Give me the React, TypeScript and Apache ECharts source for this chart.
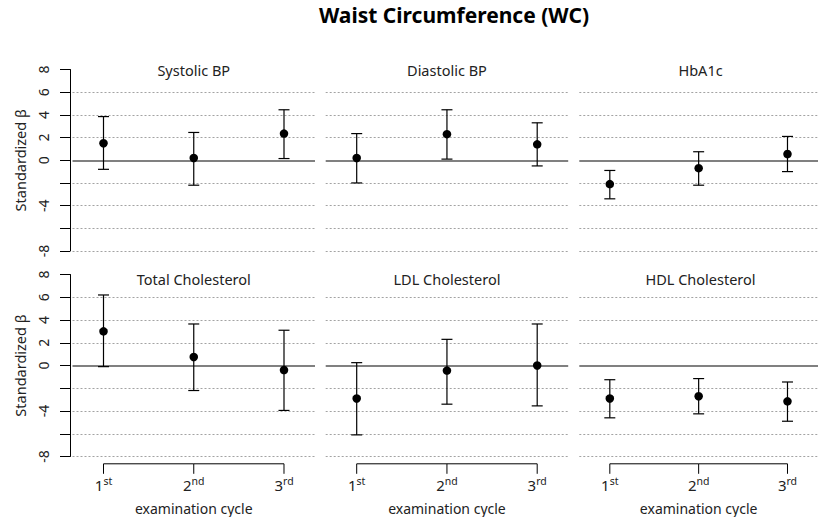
import React, { useEffect, useRef } from "react";
import * as echarts from "echarts";

// Examination cycles on the x axis
const cycles = [1, 2, 3];
const cycleNumbers = ["1", "2", "3"];
const cycleSuffixes = ["st", "nd", "rd"];

// Panel titles, row by row
const panelTitles = [
  "Systolic BP",
  "Diastolic BP",
  "HbA1c",
  "Total Cholesterol",
  "LDL Cholesterol",
  "HDL Cholesterol",
];

// Standardized beta estimates with lower / upper confidence limits
const sbpEst = [1.5, 0.2, 2.35];
const sbpLo = [-0.8, -2.2, 0.15];
const sbpHi = [3.85, 2.45, 4.45];

const dbpEst = [0.2, 2.3, 1.4];
const dbpLo = [-2.0, 0.1, -0.5];
const dbpHi = [2.35, 4.45, 3.3];

const hba1cEst = [-2.1, -0.7, 0.55];
const hba1cLo = [-3.4, -2.2, -1.0];
const hba1cHi = [-0.9, 0.75, 2.1];

const tcEst = [3.0, 0.75, -0.4];
const tcLo = [-0.1, -2.2, -3.95];
const tcHi = [6.2, 3.65, 3.1];

const ldlEst = [-2.9, -0.45, 0.0];
const ldlLo = [-6.1, -3.4, -3.55];
const ldlHi = [0.25, 2.3, 3.65];

const hdlEst = [-2.9, -2.7, -3.15];
const hdlLo = [-4.6, -4.25, -4.9];
const hdlHi = [-1.25, -1.15, -1.45];

const estimates = [sbpEst, dbpEst, hba1cEst, tcEst, ldlEst, hdlEst];
const lowers = [sbpLo, dbpLo, hba1cLo, tcLo, ldlLo, hdlLo];
const uppers = [sbpHi, dbpHi, hba1cHi, tcHi, ldlHi, hdlHi];

// Y axis scale, dotted reference lines and the tick labels that are printed
const yMin = -8;
const yMax = 8;
const yStep = 2;
const dottedLevels = [-8, -6, -4, -2, 2, 4, 6];
const yLabelsShown = [-8, -4, 0, 2, 4, 6, 8];

const FONT = "'Noto Sans', 'Open Sans', 'DejaVu Sans', sans-serif";
const TEXT = "#222";

// Panel layout
const COL_LEFT = [72.5, 325.7, 579.3];
const COL_W = 242.5;
const ROW_TOP = [69.5, 274.5];
const ROW_H = [181.5, 182];
const X_MIN = 0.6565;
const X_MAX = 3.3435;
const X_AXIS_OFFSET = 7.3;
const TICK_LEN = 10;

export default function App() {
  const ref = useRef<HTMLDivElement>(null);

  useEffect(() => {
    if (!ref.current) return;
    const chart = echarts.init(ref.current, null, { renderer: "svg" });

    const grids: any[] = [];
    const xAxes: any[] = [];
    const yAxes: any[] = [];
    const series: any[] = [];
    const graphics: any[] = [
      {
        type: "text",
        x: 454,
        y: 15,
        style: {
          text: "Waist Circumference (WC)",
          fill: "#000",
          font: `bold 21px ${FONT}`,
          align: "center",
          verticalAlign: "middle",
        },
      },
    ];

    for (let i = 0; i < 6; i++) {
      const row = Math.floor(i / 3);
      const col = i % 3;
      const isBottom = row === 1;
      const isLeft = col === 0;

      grids.push({
        left: COL_LEFT[col],
        top: ROW_TOP[row],
        width: COL_W,
        height: ROW_H[row],
      });

      xAxes.push({
        gridIndex: i,
        type: "value",
        min: X_MIN,
        max: X_MAX,
        show: isBottom,
        offset: X_AXIS_OFFSET,
        axisLine: { show: false },
        splitLine: { show: false },
        axisTick: { show: false },
        axisLabel: {
          customValues: cycles,
          margin: 12,
          formatter: (v: number) => {
            const j = cycles.indexOf(v);
            return j < 0 ? "" : `{n|${cycleNumbers[j]}}{s|${cycleSuffixes[j]}}`;
          },
          rich: {
            n: { fontSize: 15, fontFamily: FONT, color: TEXT, lineHeight: 18 },
            s: {
              fontSize: 10.5,
              fontFamily: FONT,
              color: TEXT,
              lineHeight: 10,
              verticalAlign: "top",
            },
          },
        },
        name: "examination cycle",
        nameLocation: "middle",
        nameGap: 38,
        nameMoveOverlap: false,
        nameTextStyle: { fontSize: 14, fontFamily: FONT, color: TEXT },
      });

      yAxes.push({
        gridIndex: i,
        type: "value",
        min: yMin,
        max: yMax,
        interval: yStep,
        show: isLeft,
        offset: 2.5,
        splitLine: { show: false },
        axisLine: { show: true, lineStyle: { color: "#000", width: 1 } },
        axisTick: { show: true, length: TICK_LEN, lineStyle: { color: "#000", width: 1 } },
        axisLabel: {
          rotate: 90,
          margin: 20,
          fontSize: 14,
          fontFamily: FONT,
          color: TEXT,
          formatter: (v: number) => (yLabelsShown.includes(v) ? String(v) : ""),
        },
        name: "Standardized β",
        nameLocation: "middle",
        nameGap: 43,
        nameMoveOverlap: false,
        nameTextStyle: { fontSize: 14.5, fontFamily: FONT, color: TEXT },
      });

      // Reference lines: dotted grid levels and the solid zero line
      series.push({
        type: "line",
        xAxisIndex: i,
        yAxisIndex: i,
        data: [],
        z: 1,
        markLine: {
          silent: true,
          symbol: "none",
          label: { show: false },
          animation: false,
          data: [
            ...dottedLevels.map((v) => ({
              yAxis: v,
              lineStyle: { type: [2, 2], color: "#a3a3a3", width: 1 },
            })),
            { yAxis: 0, lineStyle: { type: "solid", color: "#808080", width: 2 } },
          ],
        },
      });

      // Confidence interval bars with caps
      series.push({
        type: "custom",
        xAxisIndex: i,
        yAxisIndex: i,
        z: 5,
        data: cycles.map((c, j) => [c, lowers[i][j], uppers[i][j]]),
        encode: { x: 0, y: [1, 2] },
        renderItem: (_params: any, api: any) => {
          const x = api.value(0);
          const lo = api.coord([x, api.value(1)]);
          const hi = api.coord([x, api.value(2)]);
          const half = 5.5;
          const style = { stroke: "#000", lineWidth: 1.2 };
          return {
            type: "group",
            children: [
              { type: "line", shape: { x1: lo[0], y1: lo[1], x2: hi[0], y2: hi[1] }, style },
              { type: "line", shape: { x1: hi[0] - half, y1: hi[1], x2: hi[0] + half, y2: hi[1] }, style },
              { type: "line", shape: { x1: lo[0] - half, y1: lo[1], x2: lo[0] + half, y2: lo[1] }, style },
            ],
          };
        },
      });

      // Point estimates
      series.push({
        type: "scatter",
        xAxisIndex: i,
        yAxisIndex: i,
        z: 6,
        symbol: "circle",
        symbolSize: 8.5,
        itemStyle: { color: "#000", opacity: 1 },
        data: cycles.map((c, j) => [c, estimates[i][j]]),
      });

      // Bottom-row x axis: a line from the first to the last cycle with ticks
      if (isBottom) {
        series.push({
          type: "custom",
          xAxisIndex: i,
          yAxisIndex: i,
          z: 5,
          data: cycles.map((c) => [c, yMin]),
          encode: { x: 0, y: 1 },
          renderItem: (params: any, api: any) => {
            const p = api.coord([api.value(0), api.value(1)]);
            const y0 = p[1] + X_AXIS_OFFSET;
            const style = { stroke: "#000", lineWidth: 1 };
            const children: any[] = [
              { type: "line", shape: { x1: p[0], y1: y0, x2: p[0], y2: y0 + TICK_LEN }, style },
            ];
            if (params.dataIndex < cycles.length - 1) {
              const q = api.coord([cycles[params.dataIndex + 1], api.value(1)]);
              children.push({
                type: "line",
                shape: { x1: p[0], y1: y0, x2: q[0], y2: y0 },
                style,
              });
            }
            return { type: "group", children };
          },
        });
      }

      graphics.push({
        type: "text",
        x: COL_LEFT[col] + COL_W / 2,
        y: row === 0 ? 70 : 279,
        style: {
          text: panelTitles[i],
          fill: TEXT,
          font: `14.5px ${FONT}`,
          align: "center",
          verticalAlign: "middle",
        },
      });
    }

    chart.setOption({
      animation: false,
      backgroundColor: "#fff",
      grid: grids,
      xAxis: xAxes,
      yAxis: yAxes,
      series,
      graphic: graphics,
    });

    return () => chart.dispose();
  }, []);

  return (
    <div
      ref={ref}
      style={{ position: "absolute", left: 0, top: 0, width: 818, height: 517 }}
    />
  );
}
